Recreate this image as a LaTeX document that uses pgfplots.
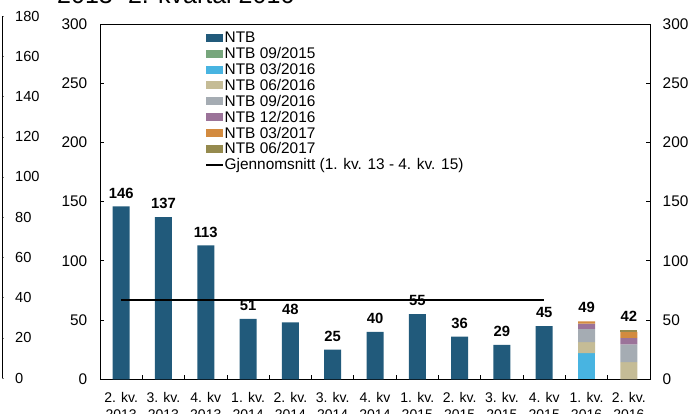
\documentclass[border=0pt]{standalone}
\usepackage{fontspec}
\setmainfont{Liberation Sans}
\usepackage{pgfplots}
\pgfplotsset{compat=1.18}
\definecolor{cNTB}{HTML}{215A7B}
\definecolor{c0915}{HTML}{77A67C}
\definecolor{c0316}{HTML}{48B4E1}
\definecolor{c0616}{HTML}{C5BC96}
\definecolor{c0916}{HTML}{A5ACB3}
\definecolor{c1216}{HTML}{9B7399}
\definecolor{c0317}{HTML}{D38B3F}
\definecolor{c0617}{HTML}{958A4E}
\begin{document}
\begin{tikzpicture}[x=1pt,y=1pt]
\path[use as bounding box] (0,0) rectangle (694,414);
\clip (0,0) rectangle (694,414);
% cut-off title
\node[anchor=base west, inner sep=0pt, font=\fontsize{25}{30}\selectfont] at (57,410.5) {2013- 2. kvartal 2016};
% stray axis at the far left
\begin{axis}[at={(2pt,36pt)}, anchor=south east, scale only axis,
  width=10pt, height=362pt, xmin=0, xmax=1, ymin=0, ymax=180,
  axis x line=none, axis y line*=right,
  ytick={0,20,...,180}, tick align=outside, major tick length=2pt,
  axis line style={line width=0.8pt},
  /pgf/number format/assume math mode=true,
  yticklabel style={anchor=west, inner sep=0pt, xshift=11pt, font=\fontsize{14.6}{16}\selectfont},
  clip=false]
\end{axis}
% main axis
\begin{axis}[at={(100pt,34.7pt)}, anchor=south west, scale only axis,
  width=550pt, height=355.3pt,
  xmin=-0.5, xmax=12.5, ymin=0, ymax=300,
  ybar stacked, reverse stacked plots=false, bar width=17pt,
  xtick={0,...,12},
  xticklabels={{2. kv.\\2013},{3. kv.\\2013},{4. kv\\2013},{1. kv.\\2014},{2. kv.\\2014},{3. kv.\\2014},{4. kv\\2014},{1. kv.\\2015},{2. kv.\\2015},{3. kv.\\2015},{4. kv\\2015},{1. kv.\\2016},{2. kv.\\2016}},
  major x tick style={draw=none},
  minor xtick={0.5,1.5,...,11.5},
  ytick={0,50,...,300},
  tick align=inside, xtick pos=left, ytick pos=left,
  major tick length=4pt, minor tick length=4pt,
  tick style={black, line width=0.8pt},
  axis line style={black, line width=0.8pt},
  /pgf/number format/assume math mode=true,
  xticklabel style={align=center, inner sep=0pt, yshift=-12.4pt, font=\fontsize{14}{17}\selectfont},
  yticklabel style={inner sep=0pt, xshift=-12.5pt, font=\fontsize{15.4}{17}\selectfont},
  legend image code/.code={\fill[#1] (0pt,-4pt) rectangle (16.7pt,4pt);},
  legend style={at={(0.1909,0.979)}, anchor=north west, draw=none, fill=none,
    inner sep=0pt, font=\fontsize{15.4}{15.4}\selectfont, row sep=2.65pt,
    nodes={inner sep=0.3pt}},
  legend cell align=left,
  clip=false]
\addplot[fill=cNTB, draw=none] coordinates {(0,146) (1,137) (2,113) (3,51) (4,48) (5,25) (6,40) (7,55) (8,36) (9,29) (10,45) (11,0) (12,0)};
\addlegendentry{NTB}
\addplot[fill=c0915, draw=none] coordinates {(0,0) (1,0) (2,0) (3,0) (4,0) (5,0) (6,0) (7,0) (8,0) (9,0) (10,0) (11,0) (12,0)};
\addlegendentry{NTB 09/2015}
\addplot[fill=c0316, draw=none] coordinates {(0,0) (1,0) (2,0) (3,0) (4,0) (5,0) (6,0) (7,0) (8,0) (9,0) (10,0) (11,22) (12,0)};
\addlegendentry{NTB 03/2016}
\addplot[fill=c0616, draw=none] coordinates {(0,0) (1,0) (2,0) (3,0) (4,0) (5,0) (6,0) (7,0) (8,0) (9,0) (10,0) (11,9.3) (12,14.5)};
\addlegendentry{NTB 06/2016}
\addplot[fill=c0916, draw=none] coordinates {(0,0) (1,0) (2,0) (3,0) (4,0) (5,0) (6,0) (7,0) (8,0) (9,0) (10,0) (11,11.2) (12,15)};
\addlegendentry{NTB 09/2016}
\addplot[fill=c1216, draw=none] coordinates {(0,0) (1,0) (2,0) (3,0) (4,0) (5,0) (6,0) (7,0) (8,0) (9,0) (10,0) (11,4.5) (12,5.5)};
\addlegendentry{NTB 12/2016}
\addplot[fill=c0317, draw=none] coordinates {(0,0) (1,0) (2,0) (3,0) (4,0) (5,0) (6,0) (7,0) (8,0) (9,0) (10,0) (11,2) (12,5)};
\addlegendentry{NTB 03/2017}
\addplot[fill=c0617, draw=none] coordinates {(0,0) (1,0) (2,0) (3,0) (4,0) (5,0) (6,0) (7,0) (8,0) (9,0) (10,0) (11,0) (12,2)};
\addlegendentry{NTB 06/2017}
\addlegendimage{legend image code/.code={\draw[black, line width=2.5pt] (0pt,0pt) -- (16.7pt,0pt);}}
\addlegendentry{Gjennomsnitt (1. kv. 13 - 4. kv. 15)}
\end{axis}
% right-hand labels, average line and totals
\begin{axis}[at={(100pt,34.7pt)}, anchor=south west, scale only axis,
  width=550pt, height=355.3pt,
  xmin=-0.5, xmax=12.5, ymin=0, ymax=300,
  axis x line=none, axis y line*=right,
  ytick={0,50,...,300}, tick align=inside, major tick length=4pt,
  tick style={black, line width=0.8pt},
  axis line style={black, line width=0.8pt},
  /pgf/number format/assume math mode=true,
  yticklabel style={anchor=west, inner sep=0pt, xshift=12.5pt, font=\fontsize{15.4}{17}\selectfont},
  clip=false]
\addplot[black, line width=2.5pt, mark=none] coordinates {(0,67) (10,67)};
\addplot[ybar, bar width=17pt, draw=none, fill=none, nodes near coords,
  every node near coord/.append style={anchor=south, inner sep=0pt, yshift=8pt, black, font=\bfseries\fontsize{14.8}{16}\selectfont}]
  coordinates {(0,146) (1,137) (2,113) (3,51) (4,48) (5,25) (6,40) (7,55) (8,36) (9,29) (10,45) (11,49) (12,42)};
\end{axis}
\end{tikzpicture}
\end{document}
